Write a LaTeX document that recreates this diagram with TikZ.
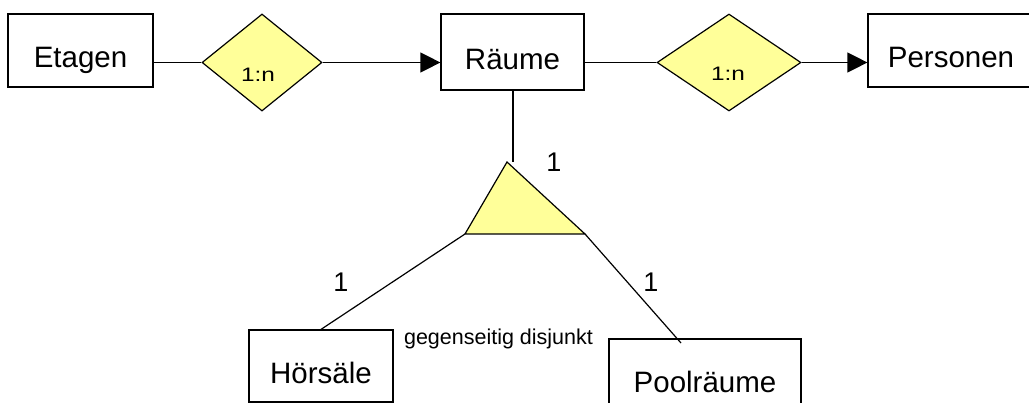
\documentclass[tikz,border=0pt]{standalone}
\usepackage{fontspec}
\setmainfont{Liberation Sans}
\usetikzlibrary{shapes.geometric,arrows.meta}
\definecolor{relyellow}{RGB}{255,255,153}
\begin{document}
\begin{tikzpicture}[x=1pt,y=-1pt,
  entity/.style={draw, line width=1.2pt, inner sep=0pt, text height=35pt, text depth=0pt, font=\fontsize{29.5}{31}\selectfont},
  rel/.style={draw, diamond, fill=relyellow, line width=1.2pt, inner sep=0pt},
  conn/.style={line width=1.2pt},
  arr/.style={conn, -{Triangle[length=20pt,width=20pt]}},
  card/.style={inner sep=0pt, anchor=base, font=\fontsize{27}{29}\selectfont},
  relt/.style={inner sep=0pt, anchor=base, font=\fontsize{19.5}{21}\selectfont},
  note/.style={inner sep=0pt, anchor=base, font=\fontsize{21.5}{23}\selectfont}]
\useasboundingbox (0,0) rectangle (1029,403);
% entities
\node[entity, minimum width=145pt, minimum height=73pt] (etagen) at (80.5,50.5) {Etagen};
\node[entity, minimum width=143pt, minimum height=76pt] (raeume) at (512.5,52) {Räume};
\node[entity, minimum width=166pt, minimum height=73pt] (personen) at (951,50.5) {Personen};
\node[entity, minimum width=144pt, minimum height=72pt] (hs) at (321,366) {Hörsäle};
\node[entity, minimum width=192pt, minimum height=72pt] (pool) at (705,375) {Poolräume};
% relationships
\node[rel, minimum width=120pt, minimum height=97pt] (d1) at (262,62.5) {};
\node[rel, minimum width=144pt, minimum height=97pt] (d2) at (729,62.5) {};
\node[relt] (d1t) at (258,82) {\scalebox{1.25}[1]{1:n}};
\node[relt] (d2t) at (728,81) {\scalebox{1.25}[1]{1:n}};
% connectors
\draw[conn] (d1.west -| etagen.east) -- (d1.west);
\draw[arr] (d1.east) -- (d1.east -| raeume.west);
\draw[conn] (d2.west -| raeume.east) -- (d2.west);
\draw[arr] (d2.east) -- (d2.east -| personen.west);
% specialization triangle
\coordinate (ta) at (507,162);
\coordinate (tl) at (465,234);
\coordinate (tr) at (585,234);
\coordinate (vend) at (513,162);
\coordinate (pend) at (681,343);
\draw[conn, fill=relyellow, line join=miter] (ta) -- (tl) -- (tr) -- cycle;
\draw[conn] (raeume.south -| vend) -- (vend);
\draw[conn] (tl) -- (hs.north);
\draw[conn] (tr) -- (pend);
% cardinalities
\node[card] (c1) at (554,172) {1};
\node[card] (c2) at (341,292) {1};
\node[card] (c3) at (651,292) {1};
\node[note] (disj) at (498.5,345) {gegenseitig disjunkt};
\end{tikzpicture}
\end{document}
